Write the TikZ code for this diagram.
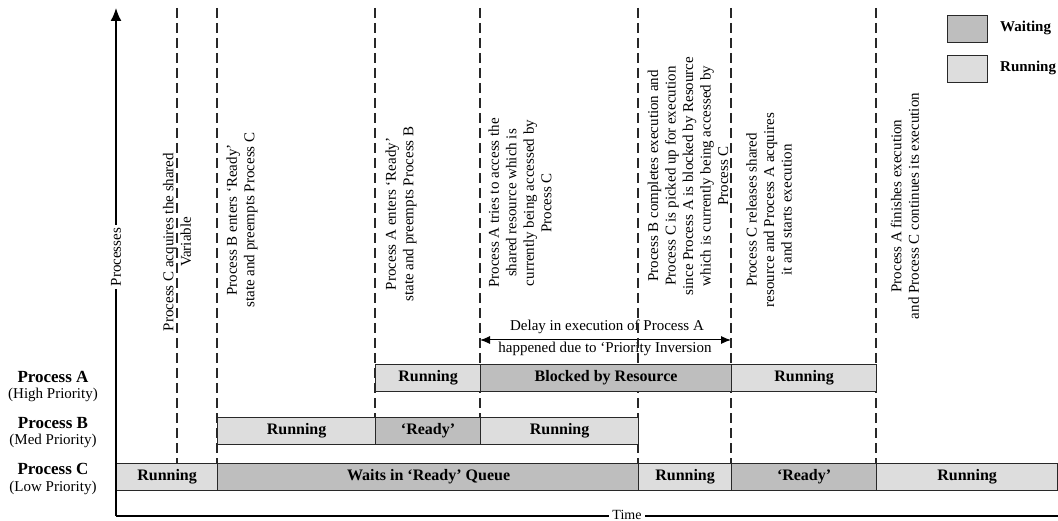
\documentclass[tikz,border=0pt]{standalone}
\usepackage{fontspec}
\setmainfont{Liberation Serif}
\usetikzlibrary{arrows.meta}
\definecolor{waitfill}{RGB}{190,190,190}
\definecolor{runfill}{RGB}{221,221,221}
\definecolor{edge}{RGB}{40,40,40}
\begin{document}
\begin{tikzpicture}[x=1pt,y=-1pt,
  bar/.style={draw=edge, line width=1.2pt, minimum height=27pt, inner sep=0pt, anchor=north west, font=\fontsize{16}{18}\selectfont\bfseries},
  run/.style={bar, fill=runfill},
  wait/.style={bar, fill=waitfill},
  evt/.style={rotate=90, align=center, font=\fontsize{15}{17.5}\selectfont, inner sep=0pt},
  guide/.style={draw=edge, line width=1.1pt, dash pattern=on 10pt off 5pt},
  axis/.style={line width=1.6pt, black},
  proc/.style={font=\fontsize{17}{20}\selectfont\bfseries},
  prio/.style={font=\fontsize{15}{18}\selectfont},
  legbox/.style={draw=edge, line width=1.2pt, minimum width=40pt, minimum height=27pt, inner sep=0pt, anchor=north west},
  legtxt/.style={anchor=west, font=\fontsize{15}{18}\selectfont\bfseries, inner sep=0pt}]
\useasboundingbox (0,0) rectangle (1058,521);

% event texts
\node[evt] (e1) at (177,242) {Process C acquires the shared\\Variable};
\node[evt] (e2) at (242,220) {Process B enters ‘Ready’\\state and preempts Process C};
\node[evt] (e3) at (401,214) {Process A enters ‘Ready’\\state and preempts Process B};
\node[evt] (e4) at (520,203) {Process A tries to access the\\shared resource which is\\currently being accessed by\\Process C};
\node[evt] (e5) at (688,176) {Process B completes execution and\\Process C is picked up for execution\\since Process A is blocked by Resource\\which is currently being accessed by\\Process C};
\node[evt] (e6) at (769,210) {Process C releases shared\\resource and Process A acquires\\it and starts execution};
\node[evt] (e7) at (905,206) {Process A finishes execution\\and Process C continues its execution};

% delay annotation
\node[font=\fontsize{15}{18}\selectfont, inner sep=0pt] (d1) at (607,327) {Delay in execution of Process A};
\node[font=\fontsize{15}{18}\selectfont, inner sep=0pt] (d2) at (605,349) {happened due to ‘Priority Inversion};
\coordinate (dl) at (480,340);
\coordinate (dr) at (731,340);
\draw[line width=1pt, {Latex[length=10pt,width=8pt]}-{Latex[length=10pt,width=8pt]}] (dl) -- (dr);

% guide lines
\foreach \n/\x/\b in {g1/177/463, g2/217/463, g3/375/417, g4/480/417, g5/638/463, g6/731/463, g7/876/463}{
  \coordinate (\n t) at (\x,8);
  \coordinate (\n b) at (\x,\b);
  \draw[guide] (\n t) -- (\n b);
}

% bars: Process A
\node[run,  minimum width=105pt] (aR1) at (375,364) {Running};
\node[wait, minimum width=251pt] (aB)  at (480,364) {Blocked by Resource};
\node[run,  minimum width=145pt] (aR2) at (731,364) {Running};
% Process B
\node[run,  minimum width=158pt] (bR1) at (217,417) {Running};
\node[wait, minimum width=105pt] (bW)  at (375,417) {‘Ready’};
\node[run,  minimum width=158pt] (bR2) at (480,417) {Running};
% Process C
\node[run,  minimum width=101pt] (cR1) at (116,463) {Running};
\node[wait, minimum width=422pt] (cW)  at (217,463) {Waits in ‘Ready’ Queue};
\node[run,  minimum width=93pt]  (cR2) at (638,463) {Running};
\node[wait, minimum width=145pt] (cW2) at (731,463) {‘Ready’};
\node[run,  minimum width=181pt] (cR3) at (876,463) {Running};

% row labels
\node[proc] (pA) at (53,377) {Process A};
\node[prio] (pAp) at (53,395) {(High Priority)};
\node[proc] (pB) at (53,423) {Process B};
\node[prio] (pBp) at (53,441) {(Med Priority)};
\node[proc] (pC) at (53,469) {Process C};
\node[prio] (pCp) at (53,488) {(Low Priority)};

% axes
\coordinate (O) at (116,516);
\coordinate (Ytip) at (116,8);
\coordinate (Xend) at (1058,516);
\draw[axis, -{Latex[length=13pt,width=11pt]}] (O) -- (Ytip);
\draw[axis] (O) -- (Xend);
\node[fill=white, rotate=90, font=\fontsize{15}{17}\selectfont, inner sep=3pt] (ylab) at (116,257) {Processes};
\node[fill=white, font=\fontsize{14}{16}\selectfont, inner sep=3pt] (xlab) at (627,515) {Time};

% legend
\node[legbox, fill=waitfill] (lw) at (947,15) {};
\node[legbox, fill=runfill] (lr) at (947,55) {};
\node[legtxt] (lwt) at (1000,28) {Waiting};
\node[legtxt] (lrt) at (1000,68) {Running};
\end{tikzpicture}
\end{document}
